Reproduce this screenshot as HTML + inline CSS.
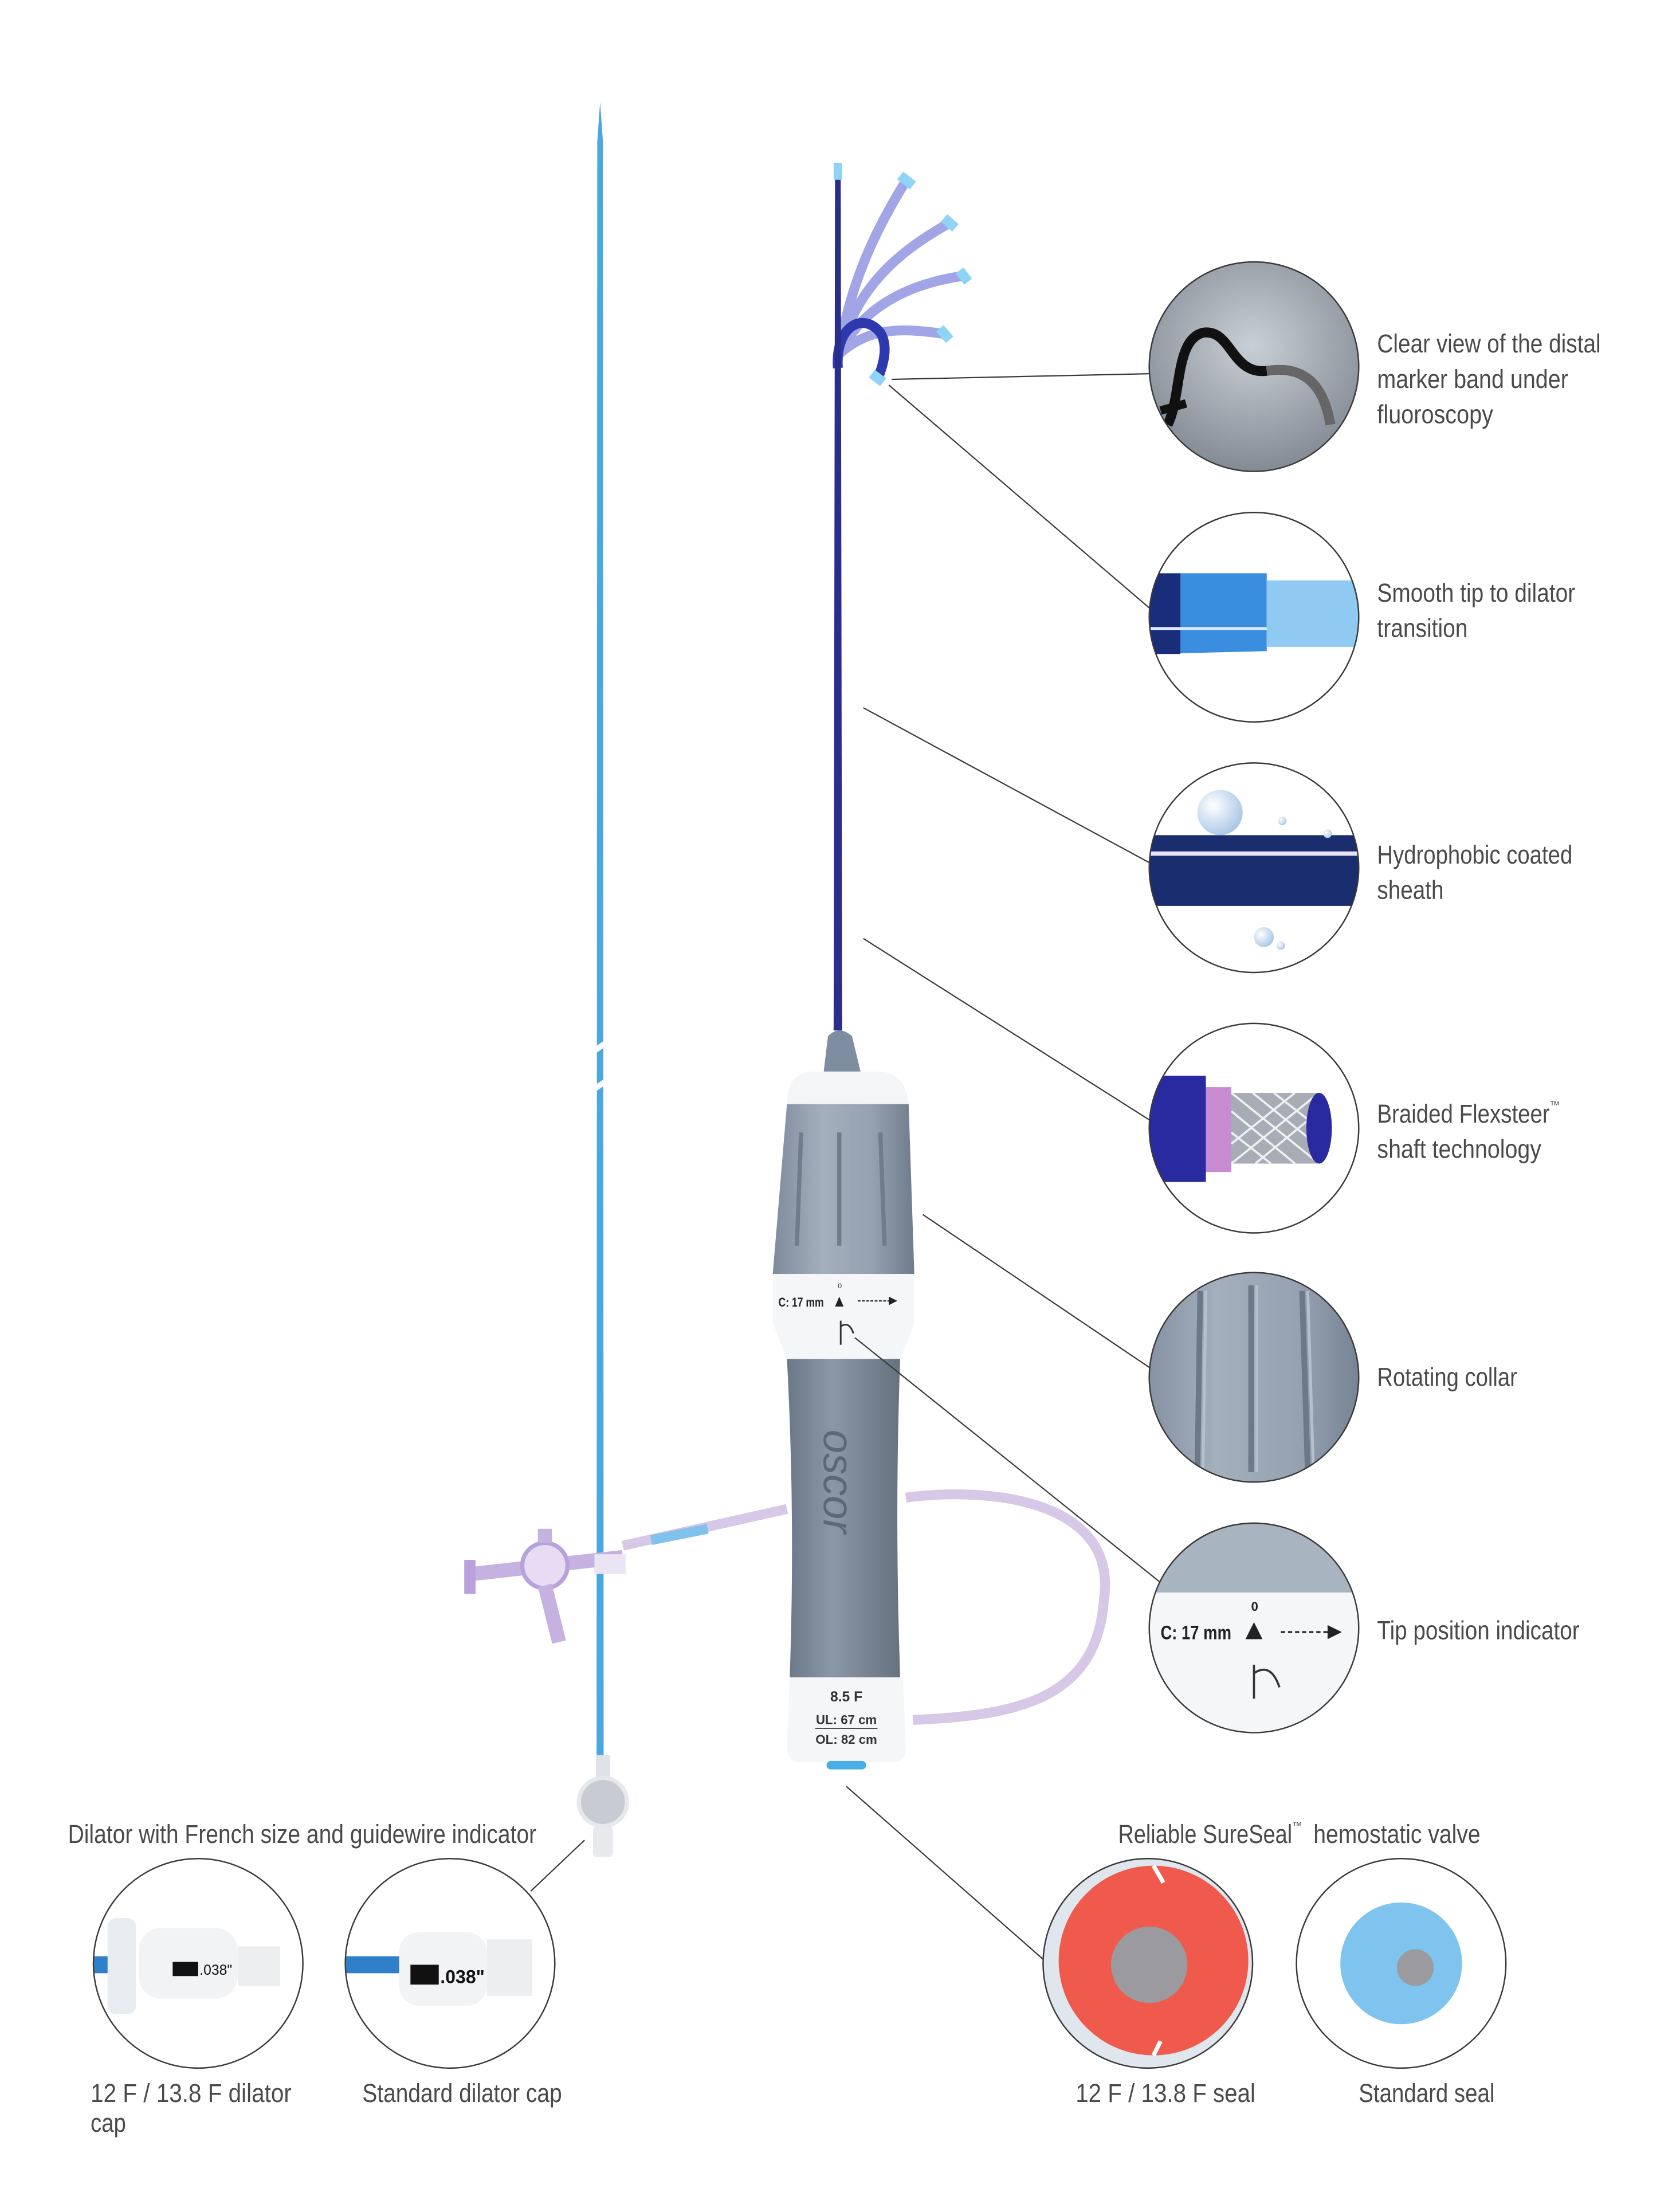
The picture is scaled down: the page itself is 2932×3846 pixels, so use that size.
<!DOCTYPE html>
<html><head><meta charset="utf-8"><style>
html,body{margin:0;padding:0;background:#fff}
svg{display:block}
text{font-family:"Liberation Sans Narrow","Liberation Sans",sans-serif;fill:#4a4a4d;font-size:18.5px}
</style></head><body>
<svg width="2932" height="3846" viewBox="0 0 1187 1557" xmlns="http://www.w3.org/2000/svg">
<defs>
<linearGradient id="gcol" x1="0" x2="1"><stop offset="0" stop-color="#7e8b9b"/><stop offset=".35" stop-color="#a4afbd"/><stop offset=".7" stop-color="#95a1b0"/><stop offset="1" stop-color="#6f7c8c"/></linearGradient>
<linearGradient id="ggrip" x1="0" x2="1"><stop offset="0" stop-color="#6b7888"/><stop offset=".4" stop-color="#8a97a7"/><stop offset="1" stop-color="#66727f"/></linearGradient>
<radialGradient id="gfl" cx=".5" cy=".4" r=".6"><stop offset="0" stop-color="#c9cfd6"/><stop offset="1" stop-color="#7d858f"/></radialGradient>
<radialGradient id="gbub" cx=".35" cy=".35" r=".7"><stop offset="0" stop-color="#fff"/><stop offset="1" stop-color="#a9c6e6"/></radialGradient>
<clipPath id="c1"><circle cx="886" cy="259" r="74"/></clipPath>
<clipPath id="c2"><circle cx="886" cy="436" r="74"/></clipPath>
<clipPath id="c3"><circle cx="886" cy="613" r="74"/></clipPath>
<clipPath id="c4"><circle cx="886" cy="797" r="74"/></clipPath>
<clipPath id="c5"><circle cx="886" cy="973" r="74"/></clipPath>
<clipPath id="c6"><circle cx="886" cy="1150" r="74"/></clipPath>
<clipPath id="b1"><circle cx="140" cy="1387" r="74"/></clipPath>
<clipPath id="b2"><circle cx="318" cy="1387" r="74"/></clipPath>
<clipPath id="b3"><circle cx="811" cy="1387" r="74"/></clipPath>
<clipPath id="b4"><circle cx="990" cy="1387" r="74"/></clipPath>
</defs>

<!-- dilator -->
<path d="M424 72 L426 100 L426.5 1255 L421.5 1255 L422 100 Z" fill="#4aa8e0"/>
<path d="M416 745 L438 730 M416 772 L438 757" stroke="#fff" stroke-width="4"/>
<rect x="421" y="1240" width="10" height="20" fill="#dfe3e8"/>
<circle cx="426" cy="1273" r="17" fill="#c8ccd2" stroke="#e6e8eb" stroke-width="3"/>
<rect x="419" y="1290" width="14" height="22" rx="3" fill="#e7e9ec"/>

<!-- side tube -->
<path d="M640 1058 C700 1050 790 1060 780 1130 C775 1200 720 1212 645 1215" fill="none" stroke="#d6c8e6" stroke-width="7"/>
<path d="M556 1066 L440 1092" stroke="#d6c8e6" stroke-width="7"/>
<path d="M460 1088 L500 1080" stroke="#7fc2ec" stroke-width="7"/>
<path d="M333 1112 L440 1100" stroke="#c5b2e0" stroke-width="10"/>
<rect x="328" y="1102" width="8" height="24" fill="#b9a2dc"/>
<circle cx="385" cy="1106" r="16" fill="#e7dcf3" stroke="#b9a2dc" stroke-width="3"/>
<path d="M385 1090 L385 1080 M385 1120 L395 1160" stroke="#c5b2e0" stroke-width="10"/>
<rect x="420" y="1098" width="22" height="14" fill="#eae4f3"/>

<!-- sheath fan -->
<g fill="none" stroke-linecap="butt" stroke-width="7" stroke="#8a8fe0" opacity=".8">
<path d="M593 250 C600 200 620 160 640 128"/>
<path d="M593 250 C605 200 640 175 670 158"/>
<path d="M593 250 C610 215 645 200 680 195"/>
<path d="M593 250 C615 230 640 232 668 236"/>
</g>
<path d="M592 260 C590 230 610 220 622 235 C628 245 624 258 620 268" fill="none" stroke="#2e39b0" stroke-width="7"/>
<path d="M590 115 L594 115 L595 728 L589 728 Z" fill="#2a2e8a"/>
<rect x="589" y="115" width="6" height="12" fill="#8fd3f5"/>
<path d="M636 124 L645 131" stroke="#8fd3f5" stroke-width="7"/>
<path d="M667 154 L675 161" stroke="#8fd3f5" stroke-width="7"/>
<path d="M678 191 L684 199" stroke="#8fd3f5" stroke-width="7"/>
<path d="M664 232 L671 240" stroke="#8fd3f5" stroke-width="7"/>
<path d="M616 264 L624 270" stroke="#8fd3f5" stroke-width="7"/>

<!-- handle -->
<path d="M582 757 L585 732 Q593 724 602 732 L608 757 Z" fill="#7f8da0"/>
<path d="M556 780 Q556 757 575 757 L620 757 Q640 757 642 780 Z" fill="#f3f5f7"/>
<path d="M556 780 L642 780 L646 900 L546 900 Z" fill="url(#gcol)"/>
<path d="M566 800 L563 880 M593 800 L593 880 M622 800 L625 880" stroke="#6f7c8c" stroke-width="3"/>
<path d="M546 900 L646 900 L646 935 L636 960 L556 960 L546 935 Z" fill="#f4f6f8"/>
<text x="550" y="923" textLength="32" lengthAdjust="spacingAndGlyphs" style="font-size:9px;font-weight:bold;fill:#222">C: 17 mm</text>
<text x="592" y="910" style="font-size:5px;fill:#333">0</text>
<path d="M590 923 L593 916 L596 923 Z" fill="#222"/>
<path d="M606 919 L628 919" stroke="#333" stroke-width="1" stroke-dasharray="2 1"/>
<path d="M628 916 L634 919 L628 922 Z" fill="#222"/>
<path d="M594 950 L594 933 M594 937 Q600 933 603 942" stroke="#333" stroke-width="1.2" fill="none"/>
<path d="M556 960 L636 960 Q632 1070 636 1185 L558 1185 Q562 1070 556 960 Z" fill="url(#ggrip)"/>
<text transform="translate(582 1010) rotate(90)" style="font-size:30px;fill:#5c6877;font-style:italic">oscor</text>
<path d="M558 1185 L638 1185 L640 1235 Q640 1245 630 1245 L566 1245 Q556 1245 556 1235 Z" fill="#f4f6f8"/>
<text x="598" y="1202" text-anchor="middle" style="font-size:10px;font-weight:bold;fill:#333">8.5 F</text>
<text x="598" y="1218" text-anchor="middle" style="font-size:9px;font-weight:bold;fill:#333">UL: 67 cm</text>
<line x1="576" y1="1221" x2="620" y2="1221" stroke="#333" stroke-width=".7"/>
<text x="598" y="1232" text-anchor="middle" style="font-size:9px;font-weight:bold;fill:#333">OL: 82 cm</text>
<rect x="584" y="1244" width="28" height="6" rx="3" fill="#49aee6"/>

<!-- leader lines -->
<g stroke="#3a3a3a" stroke-width=".9">
<line x1="630" y1="268" x2="812" y2="264"/>
<line x1="628" y1="272" x2="815" y2="432"/>
<line x1="610" y1="500" x2="815" y2="611"/>
<line x1="610" y1="663" x2="815" y2="793"/>
<line x1="652" y1="858" x2="815" y2="968"/>
<line x1="604" y1="945" x2="820" y2="1118"/>
<line x1="598" y1="1262" x2="738" y2="1385"/>
<line x1="413" y1="1300" x2="375" y2="1336"/>
</g>

<!-- circle 1 fluoroscopy -->
<g clip-path="url(#c1)">
<rect x="800" y="180" width="170" height="160" fill="url(#gfl)"/>
<path d="M825 300 C835 280 830 240 850 235 C870 232 870 265 895 262" fill="none" stroke="#111" stroke-width="7"/>
<path d="M820 290 L838 285" stroke="#111" stroke-width="6"/>
<path d="M895 262 C920 258 935 270 940 300" fill="none" stroke="#666" stroke-width="7"/>
</g>
<!-- circle 2 -->
<g clip-path="url(#c2)">
<rect x="800" y="360" width="170" height="160" fill="#fff"/>
<path d="M812 405 L895 405 L895 460 L812 462 Z" fill="#3a8ee0"/>
<rect x="812" y="405" width="22" height="57" fill="#1a2d7a"/>
<path d="M895 410 L965 410 L965 457 L895 457 Z" fill="#8fcaf2"/>
<line x1="812" y1="444" x2="895" y2="444" stroke="#dbe8f6" stroke-width="2"/>
</g>
<!-- circle 3 -->
<g clip-path="url(#c3)">
<rect x="800" y="535" width="170" height="160" fill="#fff"/>
<rect x="812" y="590" width="150" height="50" fill="#1a2d6e"/>
<line x1="812" y1="603" x2="962" y2="603" stroke="#e8e4f2" stroke-width="3"/>
<circle cx="862" cy="574" r="16" fill="url(#gbub)"/>
<circle cx="893" cy="662" r="7" fill="url(#gbub)"/>
<circle cx="905" cy="668" r="3" fill="url(#gbub)"/>
<circle cx="906" cy="580" r="3" fill="url(#gbub)"/>
<circle cx="938" cy="589" r="3" fill="url(#gbub)"/>
</g>
<!-- circle 4 -->
<g clip-path="url(#c4)">
<rect x="800" y="715" width="170" height="165" fill="#fff"/>
<path d="M812 760 L852 760 L852 835 L812 835 Z" fill="#2a2aa0"/>
<path d="M852 768 L870 768 L870 828 L852 828 Z" fill="#c88ad0"/>
<path d="M870 772 L932 772 L932 822 L870 822 Z" fill="#a8acb4"/>
<path d="M870 772 L932 822 M885 772 L932 810 M900 772 L932 797 M870 785 L915 822 M870 800 L898 822 M932 772 L870 822 M915 772 L870 808 M932 785 L887 822" stroke="#eef0f3" stroke-width="1.5"/>
<ellipse cx="932" cy="797" rx="9" ry="25" fill="#2a2aa0"/>
</g>
<!-- circle 5 -->
<g clip-path="url(#c5)">
<rect x="800" y="895" width="170" height="160" fill="url(#gcol)"/>
<path d="M848 912 L846 1040 M884 908 L884 1040 M920 912 L924 1040" stroke="#6b7888" stroke-width="4"/>
<path d="M852 912 L850 1040 M888 908 L888 1040 M924 912 L928 1040" stroke="#b5c0cc" stroke-width="2"/>
</g>
<!-- circle 6 -->
<g clip-path="url(#c6)">
<rect x="800" y="1070" width="170" height="160" fill="#f4f6f8"/>
<rect x="800" y="1070" width="170" height="55" fill="#a9b4c1"/>
<text x="820" y="1158" textLength="50" lengthAdjust="spacingAndGlyphs" style="font-size:14px;font-weight:bold;fill:#222">C: 17 mm</text>
<text x="884" y="1138" style="font-size:9px;font-weight:bold;fill:#222">0</text>
<path d="M880 1158 L886 1146 L892 1158 Z" fill="#222"/>
<path d="M905 1153 L940 1153" stroke="#333" stroke-width="1.5" stroke-dasharray="3 2"/>
<path d="M938 1148 L948 1153 L938 1158 Z" fill="#222"/>
<path d="M886 1200 L886 1176 M886 1182 Q898 1174 904 1192" stroke="#333" stroke-width="1.5" fill="none"/>
</g>
<!-- bottom circles -->
<g clip-path="url(#b1)">
<rect x="60" y="1310" width="160" height="160" fill="#fff"/>
<rect x="62" y="1382" width="30" height="12" fill="#2f80c8"/>
<rect x="76" y="1355" width="20" height="68" rx="6" fill="#e8ecf0"/>
<rect x="98" y="1362" width="70" height="50" rx="16" fill="#f2f3f5"/>
<rect x="168" y="1375" width="30" height="28" fill="#eceef0"/>
<rect x="122" y="1386" width="18" height="10" fill="#111"/>
<text x="141" y="1395" style="font-size:10px;fill:#111">.038"</text>
</g>
<g clip-path="url(#b2)">
<rect x="240" y="1310" width="160" height="160" fill="#fff"/>
<rect x="244" y="1382" width="40" height="12" fill="#2f80c8"/>
<rect x="282" y="1365" width="62" height="52" rx="14" fill="#f2f3f5"/>
<rect x="344" y="1370" width="32" height="40" fill="#eceef0"/>
<rect x="290" y="1388" width="20" height="14" fill="#111"/>
<text x="311" y="1401" style="font-size:13px;fill:#111;font-weight:bold">.038"</text>
</g>
<g clip-path="url(#b3)">
<rect x="730" y="1310" width="160" height="160" fill="#dfe6ee"/>
<circle cx="815" cy="1385" r="67" fill="#f05a4c"/>
<circle cx="812" cy="1388" r="27" fill="#9b9a9e"/>
<path d="M815 1318 L822 1330 M815 1452 L820 1442" stroke="#fff" stroke-width="3"/>
</g>
<g clip-path="url(#b4)">
<rect x="910" y="1310" width="160" height="160" fill="#fff"/>
<circle cx="990" cy="1387" r="43" fill="#7fc4ee"/>
<circle cx="1000" cy="1390" r="13" fill="#9b9a9e"/>
</g>
<g fill="none" stroke="#3a3a3a" stroke-width="1">
<circle cx="886" cy="259" r="74"/><circle cx="886" cy="436" r="74"/><circle cx="886" cy="613" r="74"/>
<circle cx="886" cy="797" r="74"/><circle cx="886" cy="973" r="74"/><circle cx="886" cy="1150" r="74"/>
<circle cx="140" cy="1387" r="74"/><circle cx="318" cy="1387" r="74"/><circle cx="811" cy="1387" r="74"/><circle cx="990" cy="1387" r="74"/>
</g>

<!-- labels -->
<text x="973" y="249" textLength="158" lengthAdjust="spacingAndGlyphs">Clear view of the distal</text>
<text x="973" y="274" textLength="135" lengthAdjust="spacingAndGlyphs">marker band under</text>
<text x="973" y="299" textLength="82" lengthAdjust="spacingAndGlyphs">fluoroscopy</text>
<text x="973" y="425" textLength="140" lengthAdjust="spacingAndGlyphs">Smooth tip to dilator</text>
<text x="973" y="450" textLength="64" lengthAdjust="spacingAndGlyphs">transition</text>
<text x="973" y="610" textLength="138" lengthAdjust="spacingAndGlyphs">Hydrophobic coated</text>
<text x="973" y="635" textLength="47" lengthAdjust="spacingAndGlyphs">sheath</text>
<text x="973" y="793" textLength="122" lengthAdjust="spacingAndGlyphs">Braided Flexsteer</text>
<text x="1095" y="783" style="font-size:7px">™</text>
<text x="973" y="818" textLength="116" lengthAdjust="spacingAndGlyphs">shaft technology</text>
<text x="973" y="979" textLength="99" lengthAdjust="spacingAndGlyphs">Rotating collar</text>
<text x="973" y="1158" textLength="143" lengthAdjust="spacingAndGlyphs">Tip position indicator</text>
<text x="48" y="1302" textLength="331" lengthAdjust="spacingAndGlyphs">Dilator with French size and guidewire indicator</text>
<text x="790" y="1302" textLength="123" lengthAdjust="spacingAndGlyphs">Reliable SureSeal</text>
<text x="913" y="1292" style="font-size:7px">™</text>
<text x="928" y="1302" textLength="118" lengthAdjust="spacingAndGlyphs">hemostatic valve</text>
<text x="64" y="1485" textLength="142" lengthAdjust="spacingAndGlyphs">12 F / 13.8 F dilator</text>
<text x="64" y="1506" textLength="25" lengthAdjust="spacingAndGlyphs">cap</text>
<text x="256" y="1485" textLength="141" lengthAdjust="spacingAndGlyphs">Standard dilator cap</text>
<text x="760" y="1485" textLength="127" lengthAdjust="spacingAndGlyphs">12 F / 13.8 F seal</text>
<text x="960" y="1485" textLength="96" lengthAdjust="spacingAndGlyphs">Standard seal</text>
</svg>
</body></html>
